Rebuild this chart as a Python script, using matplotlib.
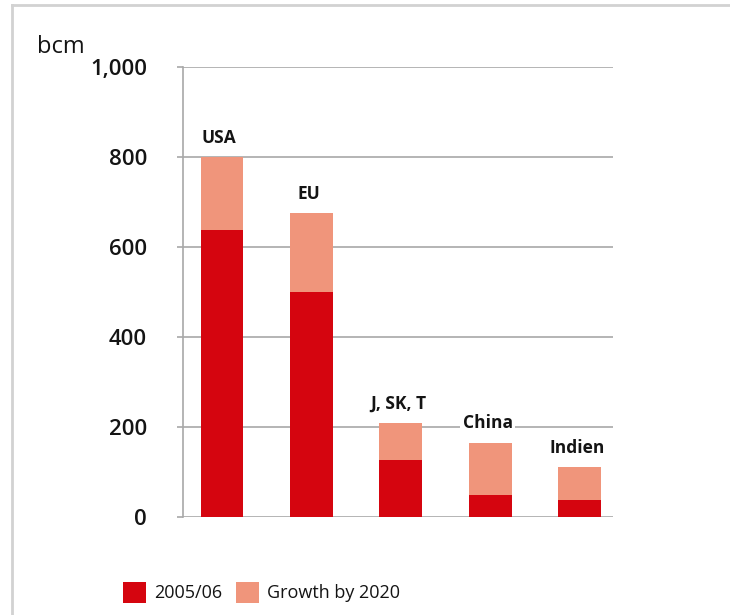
import numpy as np
import matplotlib
matplotlib.use("Agg")
import matplotlib.pyplot as plt
from matplotlib.lines import Line2D

plt.rcParams["font.family"] = ["Open Sans", "DejaVu Sans"]

regions = ["USA", "EU", "J, SK, T", "China", "Indien"]
demand_2005 = [638, 500, 127, 50, 37]
growth_2020 = [162, 175, 81, 115, 74]
yticks = [0, 200, 400, 600, 800, 1000]
ytick_labels = ["0", "200", "400", "600", "800", "1,000"]

dark_red = "#d5050f"
salmon = "#f0957b"
grid_grey = "#a8a8a8"
ink = "#141414"

fig = plt.figure(figsize=(7.3, 6.15), dpi=100)
ax = fig.add_axes([183 / 730, 1 - 517 / 615, 430 / 730, 450 / 615])

x = np.arange(len(regions))
base = np.array(demand_2005)
growth = np.array(growth_2020)
b1 = ax.bar(x, base, width=0.48, color=dark_red, zorder=3, label="2005/06")
b2 = ax.bar(x, growth, bottom=base, width=0.48, color=salmon, zorder=3,
            label="Growth by 2020")

# region names sit just above each stacked bar
for xi, top, name in zip(x, base + growth, regions):
    ax.annotate(name, (xi, top), xytext=(-2, 14), textcoords="offset points",
                ha="center", va="center", fontsize=12.5, fontweight="bold",
                color=ink, zorder=4,
                bbox=dict(boxstyle="square,pad=0.15", fc="white", ec="none"))

ax.set_xlim(-0.436, 4.37)
ax.set_ylim(0, 1000)
ax.set_yticks(yticks)
ax.set_yticklabels(ytick_labels, fontsize=16, color=ink, fontweight="semibold")
ax.set_xticks([])
ax.tick_params(axis="y", length=4, width=1.2, color=grid_grey, pad=22)
ax.yaxis.grid(True, color=grid_grey, linewidth=1.2, zorder=0)
ax.set_axisbelow(True)
for side in ["top", "right", "bottom"]:
    ax.spines[side].set_visible(False)
ax.spines["left"].set_color(grid_grey)
ax.spines["left"].set_linewidth(1.2)

fig.text(37 / 730, 1 - 53 / 615, "bcm", fontsize=17, color=ink,
         ha="left", va="baseline")

fig.legend(handles=[b1, b2], loc="lower left",
           bbox_to_anchor=(123 / 730, 1 - 603 / 615), ncol=2, frameon=False,
           fontsize=13, handlelength=1.25, handleheight=1.45,
           handletextpad=0.45, columnspacing=0.8, borderpad=0,
           borderaxespad=0, labelcolor=ink)

# light frame around the panel
fig.add_artist(Line2D([12 / 730, 1.0], [1 - 5 / 615] * 2,
                      transform=fig.transFigure, color="#d2d2d2", lw=2))
fig.add_artist(Line2D([12 / 730] * 2, [0.0, 1 - 5 / 615],
                      transform=fig.transFigure, color="#d2d2d2", lw=2))

fig.savefig("out.png", dpi=100)
